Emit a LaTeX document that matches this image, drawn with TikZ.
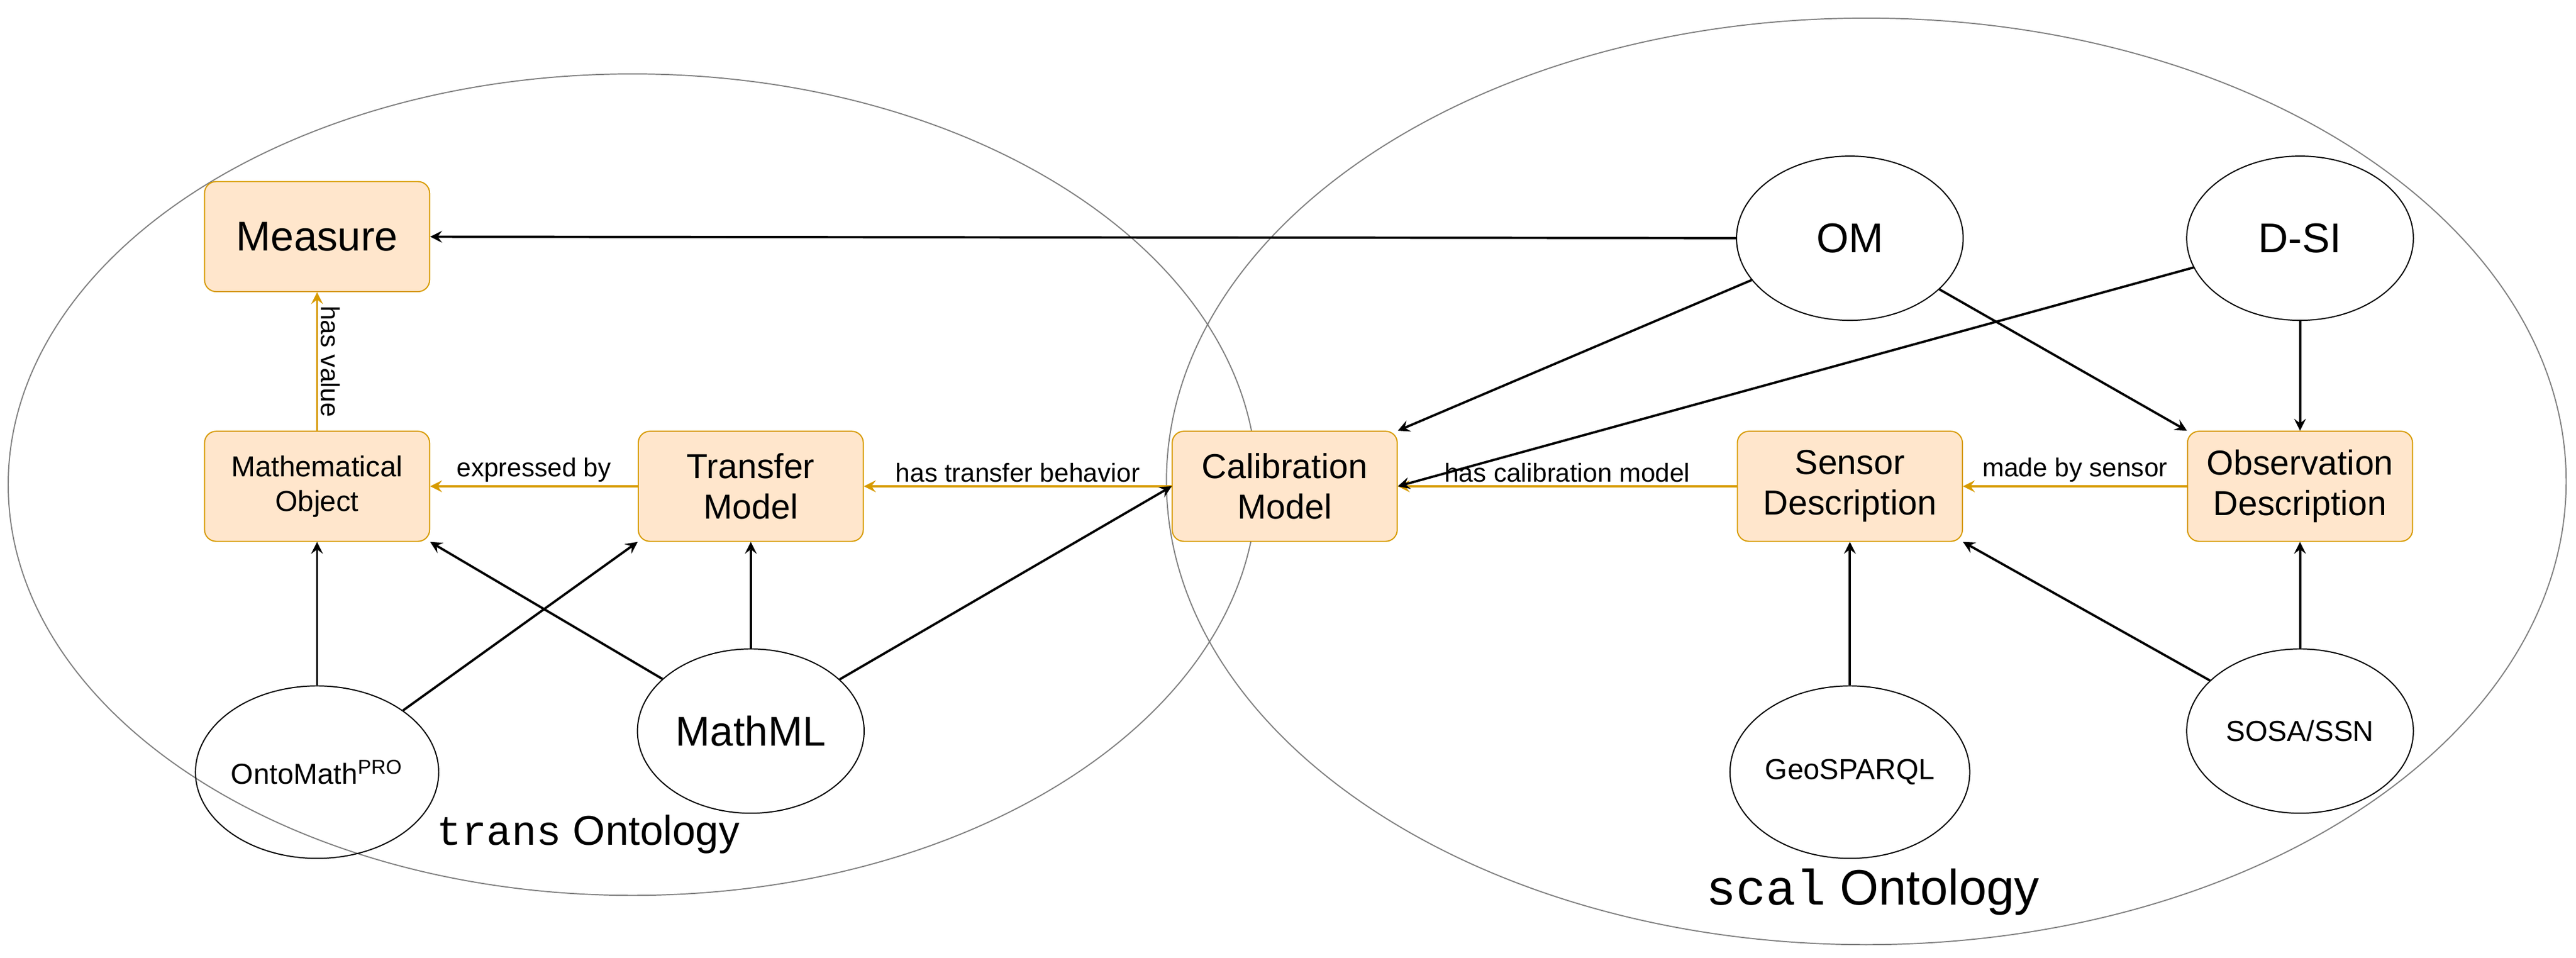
\documentclass[tikz,border=0pt]{standalone}
\usepackage{fontspec}
\setmainfont{Liberation Sans}
\setmonofont{Liberation Mono}
\usetikzlibrary{shapes.geometric}
\definecolor{boxfill}{HTML}{FFE6CC}
\definecolor{boxdraw}{HTML}{D79B00}
\tikzset{
  cls/.style={draw=boxdraw, fill=boxfill, rounded corners=4pt, minimum width=2.74cm, minimum height=1.34cm, align=center, font=\large},
  ont/.style={draw, ellipse, inner sep=0pt, minimum width=2.76cm, minimum height=2cm, font=\normalsize},
  rel/.style={->, >=stealth, draw=boxdraw, thick},
  use/.style={->, >=stealth, thick},
  lbl/.style={font=\small, fill=white, inner sep=1pt}
}
\begin{document}
\begin{tikzpicture}[x=0.02cm, y=-0.02cm]
    \useasboundingbox (0,0) rectangle (1568,583);
    \draw[gray] (385,295) ellipse [x radius=380, y radius=250];
    \draw[gray] (1136,293) ellipse [x radius=426, y radius=282];
    % classes
    \node[cls, font=\Large] (measure) at (193,144) {Measure};
    \node[cls, font=\normalsize] (mathobj) at (193,296) {Mathematical\\Object};
    \node[cls] (transfer) at (457,296) {Transfer\\Model};
    \node[cls] (calib) at (782,296) {Calibration\\Model};
    \node[cls] (sensor) at (1126,296) {Sensor\\Description};
    \node[cls] (obs) at (1400,296) {Observation\\Description};
    % ontologies
    \node[ont, font=\Large] (om) at (1126,145) {OM};
    \node[ont, font=\Large] (dsi) at (1400,145) {D-SI};
    \node[ont, minimum height=2.1cm] (ontomath) at (193,470) {OntoMath\textsuperscript{PRO}};
    \node[ont, font=\Large] (mathml) at (457,445) {MathML};
    \node[ont, minimum height=2.1cm] (geo) at (1126,470) {GeoSPARQL};
    \node[ont] (sosa) at (1400,445) {SOSA/SSN};
    \node[font=\Large] (transont) at (358,508) {\texttt{trans} Ontology};
    \node[font=\LARGE] (scalont) at (1140,543) {\texttt{scal} Ontology};
    % relations
    \draw[rel] (mathobj) -- node[lbl, sloped, above, fill=none, rotate=180] {has value} (measure);
    \draw[rel] (transfer) -- node[lbl, above] {expressed by} (mathobj);
    \draw[rel] (calib) -- node[lbl, above] {has transfer behavior} (transfer);
    \draw[rel] (sensor) -- node[lbl, above] {has calibration model} (calib);
    \draw[rel] (obs) -- node[lbl, above] {made by sensor} (sensor);
    % uses
    \draw[use] (om) -- (measure);
    \draw[use] (om) -- (calib.north east);
    \draw[use] (om) -- (obs.north west);
    \draw[use] (dsi) -- (calib.east);
    \draw[use] (dsi) -- (obs);
    \draw[use] (ontomath) -- (mathobj);
    \draw[use] (ontomath) -- (transfer.south west);
    \draw[use] (mathml) -- (mathobj.south east);
    \draw[use] (mathml) -- (transfer);
    \draw[use] (mathml) -- (calib.west);
    \draw[use] (geo) -- (sensor);
    \draw[use] (sosa) -- (sensor.south east);
    \draw[use] (sosa) -- (obs);
\end{tikzpicture}
\end{document}
